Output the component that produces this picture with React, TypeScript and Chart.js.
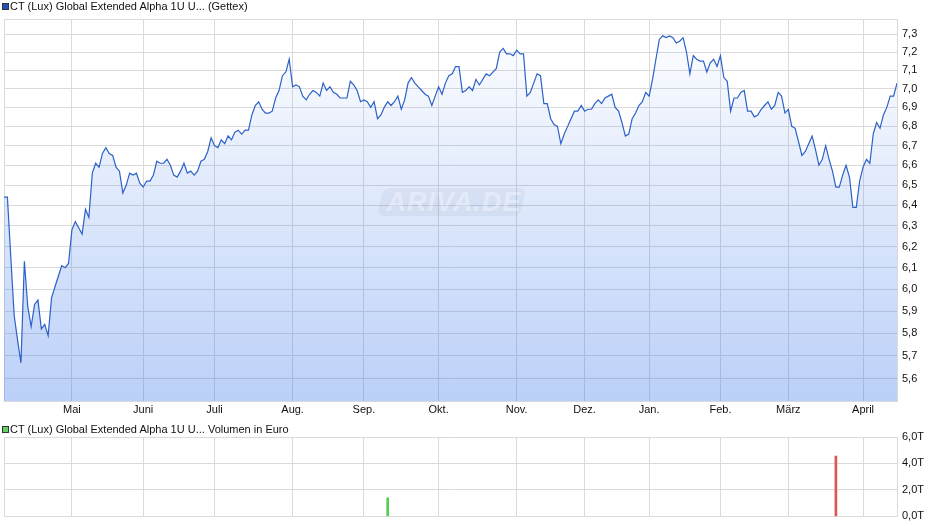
import React, { useEffect, useRef } from 'react';
import { Chart, registerables } from 'chart.js';

Chart.register(...registerables);

// Daily closing prices (EUR), one per trading day, Apr -> Apr
const closes: number[] = [
  6.44, 6.44, 6.15, 5.88, 5.77, 5.67, 6.13, 5.92, 5.83, 5.93,
  5.95, 5.82, 5.84, 5.79, 5.96, 6.01, 6.06, 6.11, 6.10, 6.12,
  6.28, 6.32, 6.29, 6.26, 6.38, 6.34, 6.56, 6.61, 6.59, 6.66,
  6.69, 6.66, 6.65, 6.59, 6.57, 6.46, 6.50, 6.56, 6.55, 6.56,
  6.51, 6.49, 6.52, 6.52, 6.55, 6.62, 6.61, 6.61, 6.63, 6.60,
  6.55, 6.54, 6.57, 6.61, 6.56, 6.57, 6.55, 6.57, 6.62, 6.63,
  6.67, 6.74, 6.70, 6.69, 6.73, 6.71, 6.75, 6.73, 6.77, 6.78,
  6.76, 6.78, 6.78, 6.86, 6.91, 6.93, 6.89, 6.87, 6.87, 6.88,
  6.95, 6.99, 7.07, 7.09, 7.16, 7.01, 7.02, 7.01, 6.96, 6.94,
  6.97, 6.99, 6.98, 6.96, 7.03, 6.99, 7.01, 6.98, 6.97, 6.95,
  6.95, 6.95, 7.04, 7.02, 6.99, 6.93, 6.94, 6.93, 6.90, 6.93,
  6.84, 6.86, 6.90, 6.93, 6.91, 6.93, 6.96, 6.89, 6.94, 7.03,
  7.06, 7.03, 7.01, 6.99, 6.97, 6.96, 6.91, 6.96, 7.01, 6.97,
  7.03, 7.07, 7.08, 7.12, 7.12, 6.98, 6.99, 7.01, 6.99, 7.05,
  7.02, 7.05, 7.08, 7.07, 7.09, 7.11, 7.20, 7.22, 7.19, 7.19,
  7.18, 7.21, 7.19, 7.19, 6.96, 6.98, 7.03, 7.08, 7.07, 6.92,
  6.92, 6.84, 6.81, 6.80, 6.71, 6.76, 6.80, 6.84, 6.88, 6.88,
  6.91, 6.88, 6.89, 6.89, 6.92, 6.94, 6.92, 6.95, 6.96, 6.97,
  6.90, 6.88, 6.82, 6.75, 6.76, 6.84, 6.87, 6.91, 6.93, 6.98,
  6.96, 7.05, 7.16, 7.27, 7.29, 7.28, 7.29, 7.28, 7.25, 7.26,
  7.28, 7.20, 7.08, 7.18, 7.16, 7.15, 7.15, 7.09, 7.14, 7.16,
  7.12, 7.18, 7.06, 7.04, 6.88, 6.95, 6.95, 6.98, 6.99, 6.88,
  6.88, 6.85, 6.86, 6.89, 6.91, 6.93, 6.89, 6.91, 6.98, 6.96,
  6.87, 6.89, 6.80, 6.79, 6.72, 6.65, 6.67, 6.71, 6.75, 6.68,
  6.60, 6.63, 6.70, 6.63, 6.57, 6.49, 6.49, 6.55, 6.60, 6.54,
  6.39, 6.39, 6.52, 6.59, 6.63, 6.61, 6.76, 6.82, 6.79, 6.86,
  6.90, 6.96, 6.96, 7.03,
];

// Month labels and the trading-day index where each month starts
const monthLabels: string[] = ['Mai', 'Juni', 'Juli', 'Aug.', 'Sep.', 'Okt.', 'Nov.', 'Dez.', 'Jan.', 'Feb.', 'März', 'April'];
const monthStartIdx: number[] = [20, 41, 62, 85, 106, 128, 151, 171, 190, 211, 231, 253];

// Price axis
const priceTicks: number[] = [5.6, 5.7, 5.8, 5.9, 6.0, 6.1, 6.2, 6.3, 6.4, 6.5, 6.6, 6.7, 6.8, 6.9, 7.0, 7.1, 7.2, 7.3];
const priceMin = 5.506;
const priceMax = 7.385;

// Volume (EUR) on the days that traded
const volumeIdx: number[] = [113, 245];
const volumeValues: number[] = [1400, 4550];
const volumeTicks: number[] = [0, 2000, 4000, 6000];
const volumeMax = 6000;

const FONT_FAMILY = '"Liberation Sans", Arial, sans-serif';
const font = { family: FONT_FAMILY, size: 11 };
const gridColor = '#dadada';
const textColor = '#111';

export default function App() {
  const mainRef = useRef<HTMLCanvasElement | null>(null);
  const volRef = useRef<HTMLCanvasElement | null>(null);

  useEffect(() => {
    const last = closes.length - 1;
    const xTicks = [0, ...monthStartIdx, last];

    const main = new Chart(mainRef.current as HTMLCanvasElement, {
      type: 'line',
      data: {
        datasets: [
          {
            data: closes.map((v, i) => ({ x: i, y: v })),
            borderColor: '#2c61c9',
            borderWidth: 1.2,
            pointRadius: 0,
            tension: 0,
            fill: 'start',
            backgroundColor: (c: any) => {
              const chart = c.chart;
              const a = chart.chartArea;
              if (!a) return 'rgba(60,120,235,0.18)';
              const g = chart.ctx.createLinearGradient(0, a.top, 0, a.bottom);
              g.addColorStop(0, 'rgba(60,120,235,0.0)');
              g.addColorStop(1, 'rgba(60,120,235,0.35)');
              return g;
            },
          },
        ],
      },
      options: {
        responsive: false,
        animation: false,
        layout: { padding: { left: 4, top: 19, right: 0, bottom: 0 } },
        plugins: { legend: { display: false }, tooltip: { enabled: false } },
        scales: {
          x: {
            type: 'linear',
            min: 0,
            max: last,
            afterBuildTicks: (s: any) => {
              s.ticks = xTicks.map((v) => ({ value: v }));
            },
            afterFit: (s: any) => {
              s.height = 17;
            },
            ticks: {
              autoSkip: false,
              maxRotation: 0,
              padding: 2,
              font,
              color: textColor,
              callback: (v: any) => {
                const k = monthStartIdx.indexOf(v);
                return k >= 0 ? monthLabels[k] : '';
              },
            },
            grid: { color: gridColor, drawTicks: false },
            border: { color: gridColor },
          },
          y: {
            type: 'logarithmic',
            position: 'right',
            min: priceMin,
            max: priceMax,
            afterBuildTicks: (s: any) => {
              s.ticks = [priceMin, ...priceTicks, priceMax].map((v) => ({ value: v }));
            },
            afterFit: (s: any) => {
              s.width = 43;
            },
            ticks: {
              autoSkip: false,
              padding: 5,
              font,
              color: textColor,
              callback: (v: any) => (priceTicks.includes(v) ? Number(v).toFixed(1).replace('.', ',') : ''),
            },
            grid: { color: gridColor, drawTicks: false },
            border: { color: gridColor },
          },
        },
      },
    } as any);

    const vol = new Chart(volRef.current as HTMLCanvasElement, {
      type: 'bar',
      data: {
        datasets: [
          {
            data: volumeIdx.map((i, k) => ({ x: i, y: volumeValues[k] })),
            backgroundColor: volumeIdx.map((i) => (closes[i] >= closes[i - 1] ? '#52d052' : '#e05353')),
            barThickness: 2,
            borderWidth: 0,
          },
        ],
      },
      options: {
        responsive: false,
        animation: false,
        layout: { padding: { left: 4, top: 19, right: 0, bottom: 0 } },
        plugins: { legend: { display: false }, tooltip: { enabled: false } },
        scales: {
          x: {
            type: 'linear',
            min: 0,
            max: last,
            offset: false,
            afterBuildTicks: (s: any) => {
              s.ticks = xTicks.map((v) => ({ value: v }));
            },
            afterFit: (s: any) => {
              s.height = 8;
            },
            ticks: { display: false },
            grid: { color: gridColor, drawTicks: false, offset: false },
            border: { color: gridColor },
          },
          y: {
            position: 'right',
            min: 0,
            max: volumeMax,
            afterBuildTicks: (s: any) => {
              s.ticks = volumeTicks.map((v) => ({ value: v }));
            },
            afterFit: (s: any) => {
              s.width = 43;
            },
            ticks: {
              autoSkip: false,
              padding: 5,
              font,
              color: textColor,
              callback: (v: any) => (Number(v) / 1000).toFixed(1).replace('.', ',') + 'T',
            },
            grid: { color: gridColor, drawTicks: false },
            border: { color: gridColor },
          },
        },
      },
    } as any);

    return () => {
      main.destroy();
      vol.destroy();
    };
  }, []);

  const legendText: React.CSSProperties = {
    position: 'absolute',
    left: 10,
    fontFamily: FONT_FAMILY,
    fontSize: 11,
    lineHeight: '13px',
    color: '#111',
    whiteSpace: 'nowrap',
  };

  return (
    <div style={{ position: 'absolute', left: 0, top: 0, width: 940, height: 526, background: '#fff', overflow: 'hidden' }}>
      <canvas ref={mainRef} width={940} height={418} style={{ position: 'absolute', left: 0, top: 0, width: 940, height: 418 }} />
      <canvas ref={volRef} width={940} height={110} style={{ position: 'absolute', left: 0, top: 418, width: 940, height: 110 }} />

      <div style={{ position: 'absolute', left: 2, top: 3, width: 5, height: 5, background: '#1f50c0', border: '1px solid #333' }} />
      <div style={{ ...legendText, top: 0 }}>CT (Lux) Global Extended Alpha 1U U... (Gettex)</div>

      <div style={{ position: 'absolute', left: 2, top: 426, width: 5, height: 5, background: '#5fd35f', border: '1px solid #333' }} />
      <div style={{ ...legendText, top: 423 }}>CT (Lux) Global Extended Alpha 1U U... Volumen in Euro</div>

      <div
        style={{
          position: 'absolute',
          left: 380,
          top: 188,
          width: 143,
          height: 28,
          borderRadius: 7,
          background: 'rgba(120,130,150,0.08)',
          transform: 'skewX(-12deg)',
          pointerEvents: 'none',
        }}
      />
      <div
        style={{
          position: 'absolute',
          left: 384,
          top: 186,
          width: 140,
          textAlign: 'center',
          fontFamily: FONT_FAMILY,
          fontStyle: 'italic',
          fontWeight: 'bold',
          fontSize: 27,
          lineHeight: '32px',
          color: 'rgba(255,255,255,0.32)',
          letterSpacing: 1,
          pointerEvents: 'none',
        }}
      >
        ARIVA.DE
      </div>
    </div>
  );
}
